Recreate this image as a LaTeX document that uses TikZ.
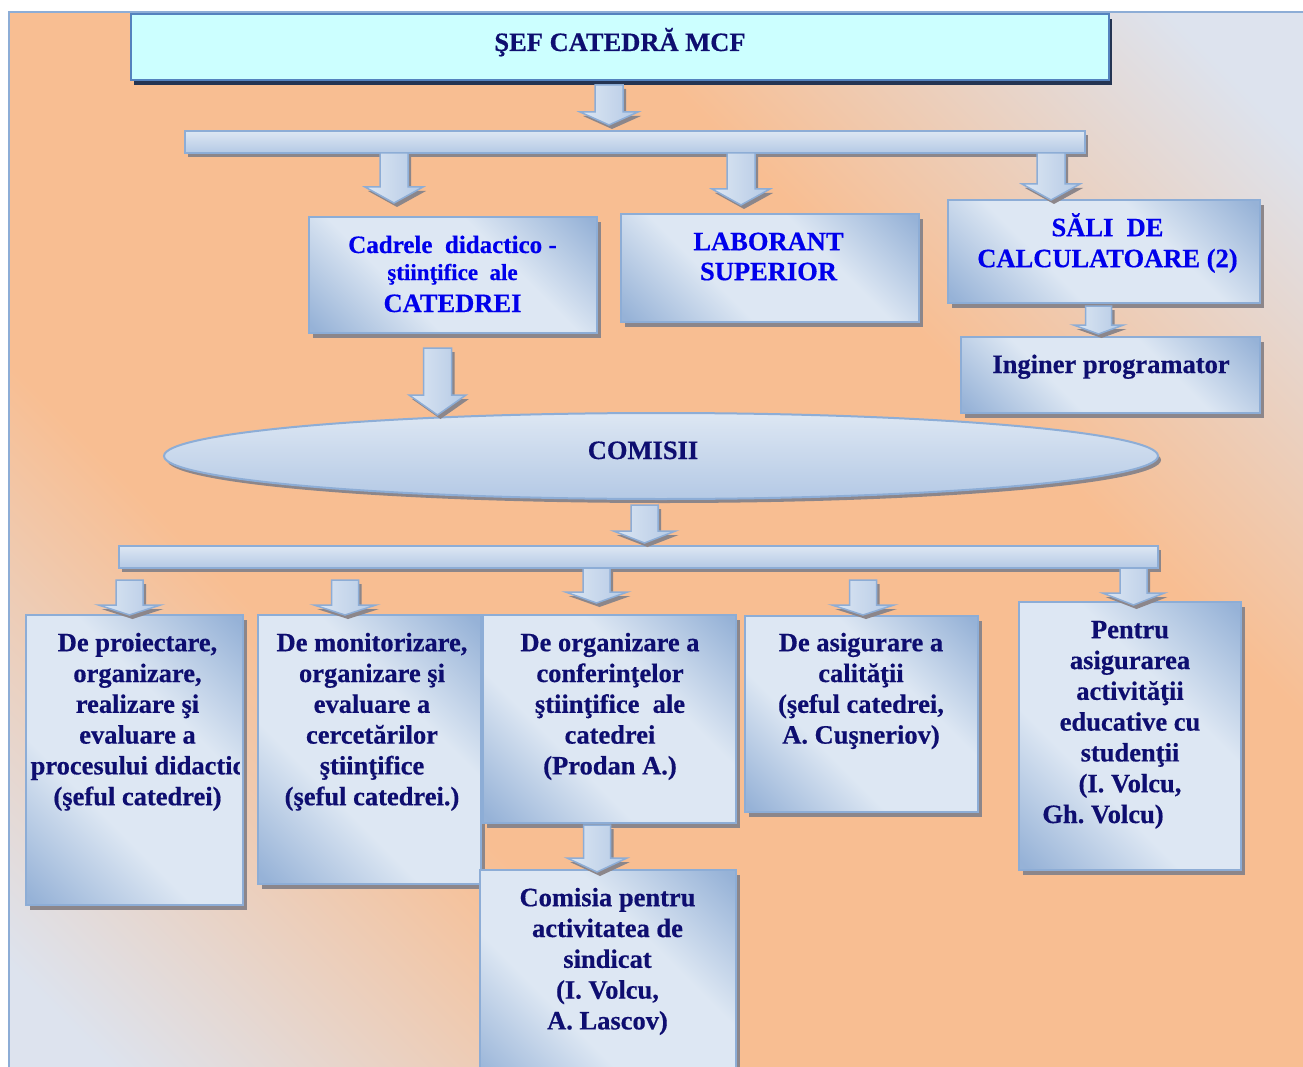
\documentclass[tikz,border=0pt]{standalone}
\usepackage{fontspec}
\setmainfont{Liberation Serif}[BoldFeatures={FakeBold=0.5}]
\usetikzlibrary{calc,shadows,shapes.geometric}
\definecolor{bgblue}{RGB}{221,227,238}
\definecolor{bgorange}{RGB}{248,190,146}
\definecolor{bdr}{RGB}{141,173,214}
\definecolor{lite}{RGB}{221,231,243}
\definecolor{boxdark}{RGB}{150,178,215}
\definecolor{bardark}{RGB}{180,201,229}
\definecolor{txtnavy}{RGB}{14,14,112}
\definecolor{txtblue}{RGB}{0,0,235}
\definecolor{shgrey}{RGB}{140,134,138}
\definecolor{topfill}{RGB}{204,255,255}
\definecolor{topbdr}{RGB}{84,130,190}
\definecolor{topsh}{RGB}{36,52,82}
\pgfdeclareverticalshading{bgshade}{100bp}{color(0bp)=(bgblue); color(18bp)=(bgblue); color(36bp)=(bgorange); color(64bp)=(bgorange); color(81bp)=(bgblue); color(100bp)=(bgblue)}
\pgfdeclareverticalshading{boxshade}{100bp}{color(0bp)=(boxdark); color(16bp)=(boxdark); color(38bp)=(lite); color(62bp)=(lite); color(84bp)=(boxdark); color(100bp)=(boxdark)}
\newcommand\firstln{\rule{0pt}{26pt}}
% #1 start, #2 tip, #3 shaft half width, #4 head half width, #5 head length
\newcommand\blockarr[5]{%
  \path[arrsty] let \p1=(#1), \p2=(#2) in
    (\x1-#3pt,\y1) -- (\x1+#3pt,\y1) -- (\x1+#3pt,\y2+#5pt) -- (\x1+#4pt,\y2+#5pt)
    -- (\x1,\y2) -- (\x1-#4pt,\y2+#5pt) -- (\x1-#3pt,\y2+#5pt) -- cycle;}
\frenchspacing
\begin{document}
\begin{tikzpicture}[x=1pt,y=-1pt,
  rbox/.style={draw=bdr, line width=1.8pt, shade, shading=boxshade, shading angle=-45,
    inner sep=0pt,
    drop shadow={shadow xshift=4pt, shadow yshift=-5pt, fill=shgrey, opacity=1}},
  barsty/.style={draw=bdr, line width=1.6pt, top color=lite, bottom color=bardark,
    inner sep=0pt,
    drop shadow={shadow xshift=3pt, shadow yshift=-4pt, fill=shgrey, opacity=1}},
  topbox/.style={draw=topbdr, line width=2pt, fill=topfill, inner sep=0pt,
    drop shadow={shadow xshift=3pt, shadow yshift=-5pt, fill=topsh, opacity=1}},
  ellsty/.style={ellipse, draw=bdr, line width=2pt, top color=lite, bottom color=bardark,
    inner sep=0pt,
    drop shadow={shadow xshift=3pt, shadow yshift=-4pt, fill=shgrey, opacity=1}},
  arrsty/.style={draw=bdr, line width=1.5pt, left color=lite, right color=bardark,
    drop shadow={shadow xshift=3pt, shadow yshift=-4pt, fill=shgrey, opacity=1}},
  txt/.style={font=\fontsize{26.5}{30.8}\selectfont\bfseries\frenchspacing, text=txtnavy, align=center,
    inner sep=0pt, anchor=north},
  oneln/.style={font=\fontsize{26.5}{30.8}\selectfont\bfseries, text=txtnavy,
    inner sep=0pt, anchor=base}]
\useasboundingbox (0,0) rectangle (1303,1067);
\fill[white] (0,0) rectangle (1303,1067);
\begin{scope}
\clip (0,0) rectangle (1303,1067);
% background panel
\path[draw=bdr, line width=2pt, shade, shading=bgshade, shading angle=-45]
  (9,12) rectangle (1320,1085);

% top level
\node[topbox, minimum width=978, minimum height=66] (top) at (620,47) {};
\node[barsty, minimum width=900, minimum height=22] (bar1) at (635,142) {};
\node[rbox, minimum width=288, minimum height=116] (cad) at (453,275) {};
\node[rbox, minimum width=298, minimum height=108] (lab) at (770,268) {};
\node[rbox, minimum width=312, minimum height=103] (sali) at (1104,251.5) {};
\node[rbox, minimum width=299, minimum height=76] (ing) at (1110.5,375) {};
\node[ellsty, minimum width=994, minimum height=86] (com) at (661,456) {};
\node[barsty, minimum width=1039, minimum height=22] (bar2) at (638.5,557) {};

% commissions
\node[rbox, minimum width=217, minimum height=290] (A) at (134.5,760) {};
\node[rbox, minimum width=223, minimum height=269] (B) at (369.5,749.5) {};
\node[rbox, minimum width=253, minimum height=208] (C) at (609.5,719) {};
\node[rbox, minimum width=256, minimum height=220] (D) at (608,980) {};
\node[rbox, minimum width=233, minimum height=196] (E) at (861.5,714) {};
\node[rbox, minimum width=222, minimum height=268] (F) at (1130,736) {};

% arrow end points
\coordinate (a1s) at (609,85);    \coordinate (a1e) at (609,125);
\coordinate (a2s) at (394,153);   \coordinate (a2e) at (394,203);
\coordinate (a3s) at (741,153);   \coordinate (a3e) at (741,205);
\coordinate (a4s) at (1051,153);  \coordinate (a4e) at (1051,200);
\coordinate (a5s) at (1098.5,306);\coordinate (a5e) at (1098.5,334);
\coordinate (a6s) at (437.5,348); \coordinate (a6e) at (437.5,415);
\coordinate (a7s) at (644.5,505); \coordinate (a7e) at (644.5,543);
\coordinate (a8s) at (129.5,580); \coordinate (a8e) at (129.5,615);
\coordinate (a9s) at (345,580);   \coordinate (a9e) at (345,615);
\coordinate (a10s) at (596.5,568);\coordinate (a10e) at (596.5,603);
\coordinate (a11s) at (863,580);  \coordinate (a11e) at (863,615);
\coordinate (a12s) at (1133.5,568);\coordinate (a12e) at (1133.5,605);
\coordinate (a13s) at (597,825);  \coordinate (a13e) at (597,872);

\blockarr{a1s}{a1e}{14}{29}{13}
\blockarr{a2s}{a2e}{14}{29}{16}
\blockarr{a3s}{a3e}{14}{29}{16}
\blockarr{a4s}{a4e}{14}{29}{16}
\blockarr{a5s}{a5e}{13}{25}{9}
\blockarr{a6s}{a6e}{14}{28.5}{20}
\blockarr{a7s}{a7e}{13.5}{31}{12}
\blockarr{a8s}{a8e}{13.5}{31}{10}
\blockarr{a9s}{a9e}{13.5}{31}{10}
\blockarr{a10s}{a10e}{13.5}{31}{11}
\blockarr{a11s}{a11e}{13.5}{31}{10}
\blockarr{a12s}{a12e}{13.5}{31}{12}
\blockarr{a13s}{a13e}{13.5}{30}{14}

% texts
\node[oneln] (t0) at (620,51) {ŞEF CATEDRĂ MCF};
\node[oneln, text=txtblue, font=\fontsize{25}{27}\selectfont\bfseries] (c1) at (452.5,253) {Cadrele\ \ didactico -};
\node[oneln, text=txtblue, font=\fontsize{23}{27}\selectfont\bfseries] (c2) at (452.5,280) {ştiinţifice\ \ ale};
\node[oneln, text=txtblue] (c3) at (452.5,312) {CATEDREI};
\node[txt, text=txtblue, font=\fontsize{26.5}{30}\selectfont\bfseries] (tl) at (768.5,224) {\firstln LABORANT\\SUPERIOR};
\node[txt, text=txtblue, font=\fontsize{26.5}{31}\selectfont\bfseries] (ts) at (1107.5,210) {\firstln SĂLI\ \ DE\\CALCULATOARE (2)};
\node[oneln] (ti) at (1111,373) {Inginer programator};
\node[oneln] (tc) at (643,459) {COMISII};

\begin{scope}
\clip (A.north west) rectangle ($(A.south east)+(-4,0)$);
\node[txt] (tA) at (137.5,625) {\firstln De proiectare,\\organizare,\\realizare şi\\evaluare a\\procesului didactic\\(şeful catedrei)};
\end{scope}
\node[txt] (tB) at (372,625) {\firstln De monitorizare,\\organizare şi\\evaluare a\\cercetărilor\\ştiinţifice\\(şeful catedrei.)};
\node[txt] (tC) at (610,625) {\firstln De organizare a\\conferinţelor\\ştiinţifice\ \ ale\\catedrei\\(Prodan A.)};
\node[txt] (tD) at (607.5,880) {\firstln Comisia pentru\\activitatea de\\sindicat\\(I. Volcu,\\A. Lascov)};
\node[txt] (tE) at (861,625) {\firstln De asigurare a\\calităţii\\(şeful catedrei,\\A. Cuşneriov)};
\node[txt] (tF) at (1130,612) {\firstln Pentru\\asigurarea\\activităţii\\educative cu\\studenţii\\(I. Volcu,\\Gh. Volcu)\hspace*{54pt}};
\end{scope}
\end{tikzpicture}
\end{document}
